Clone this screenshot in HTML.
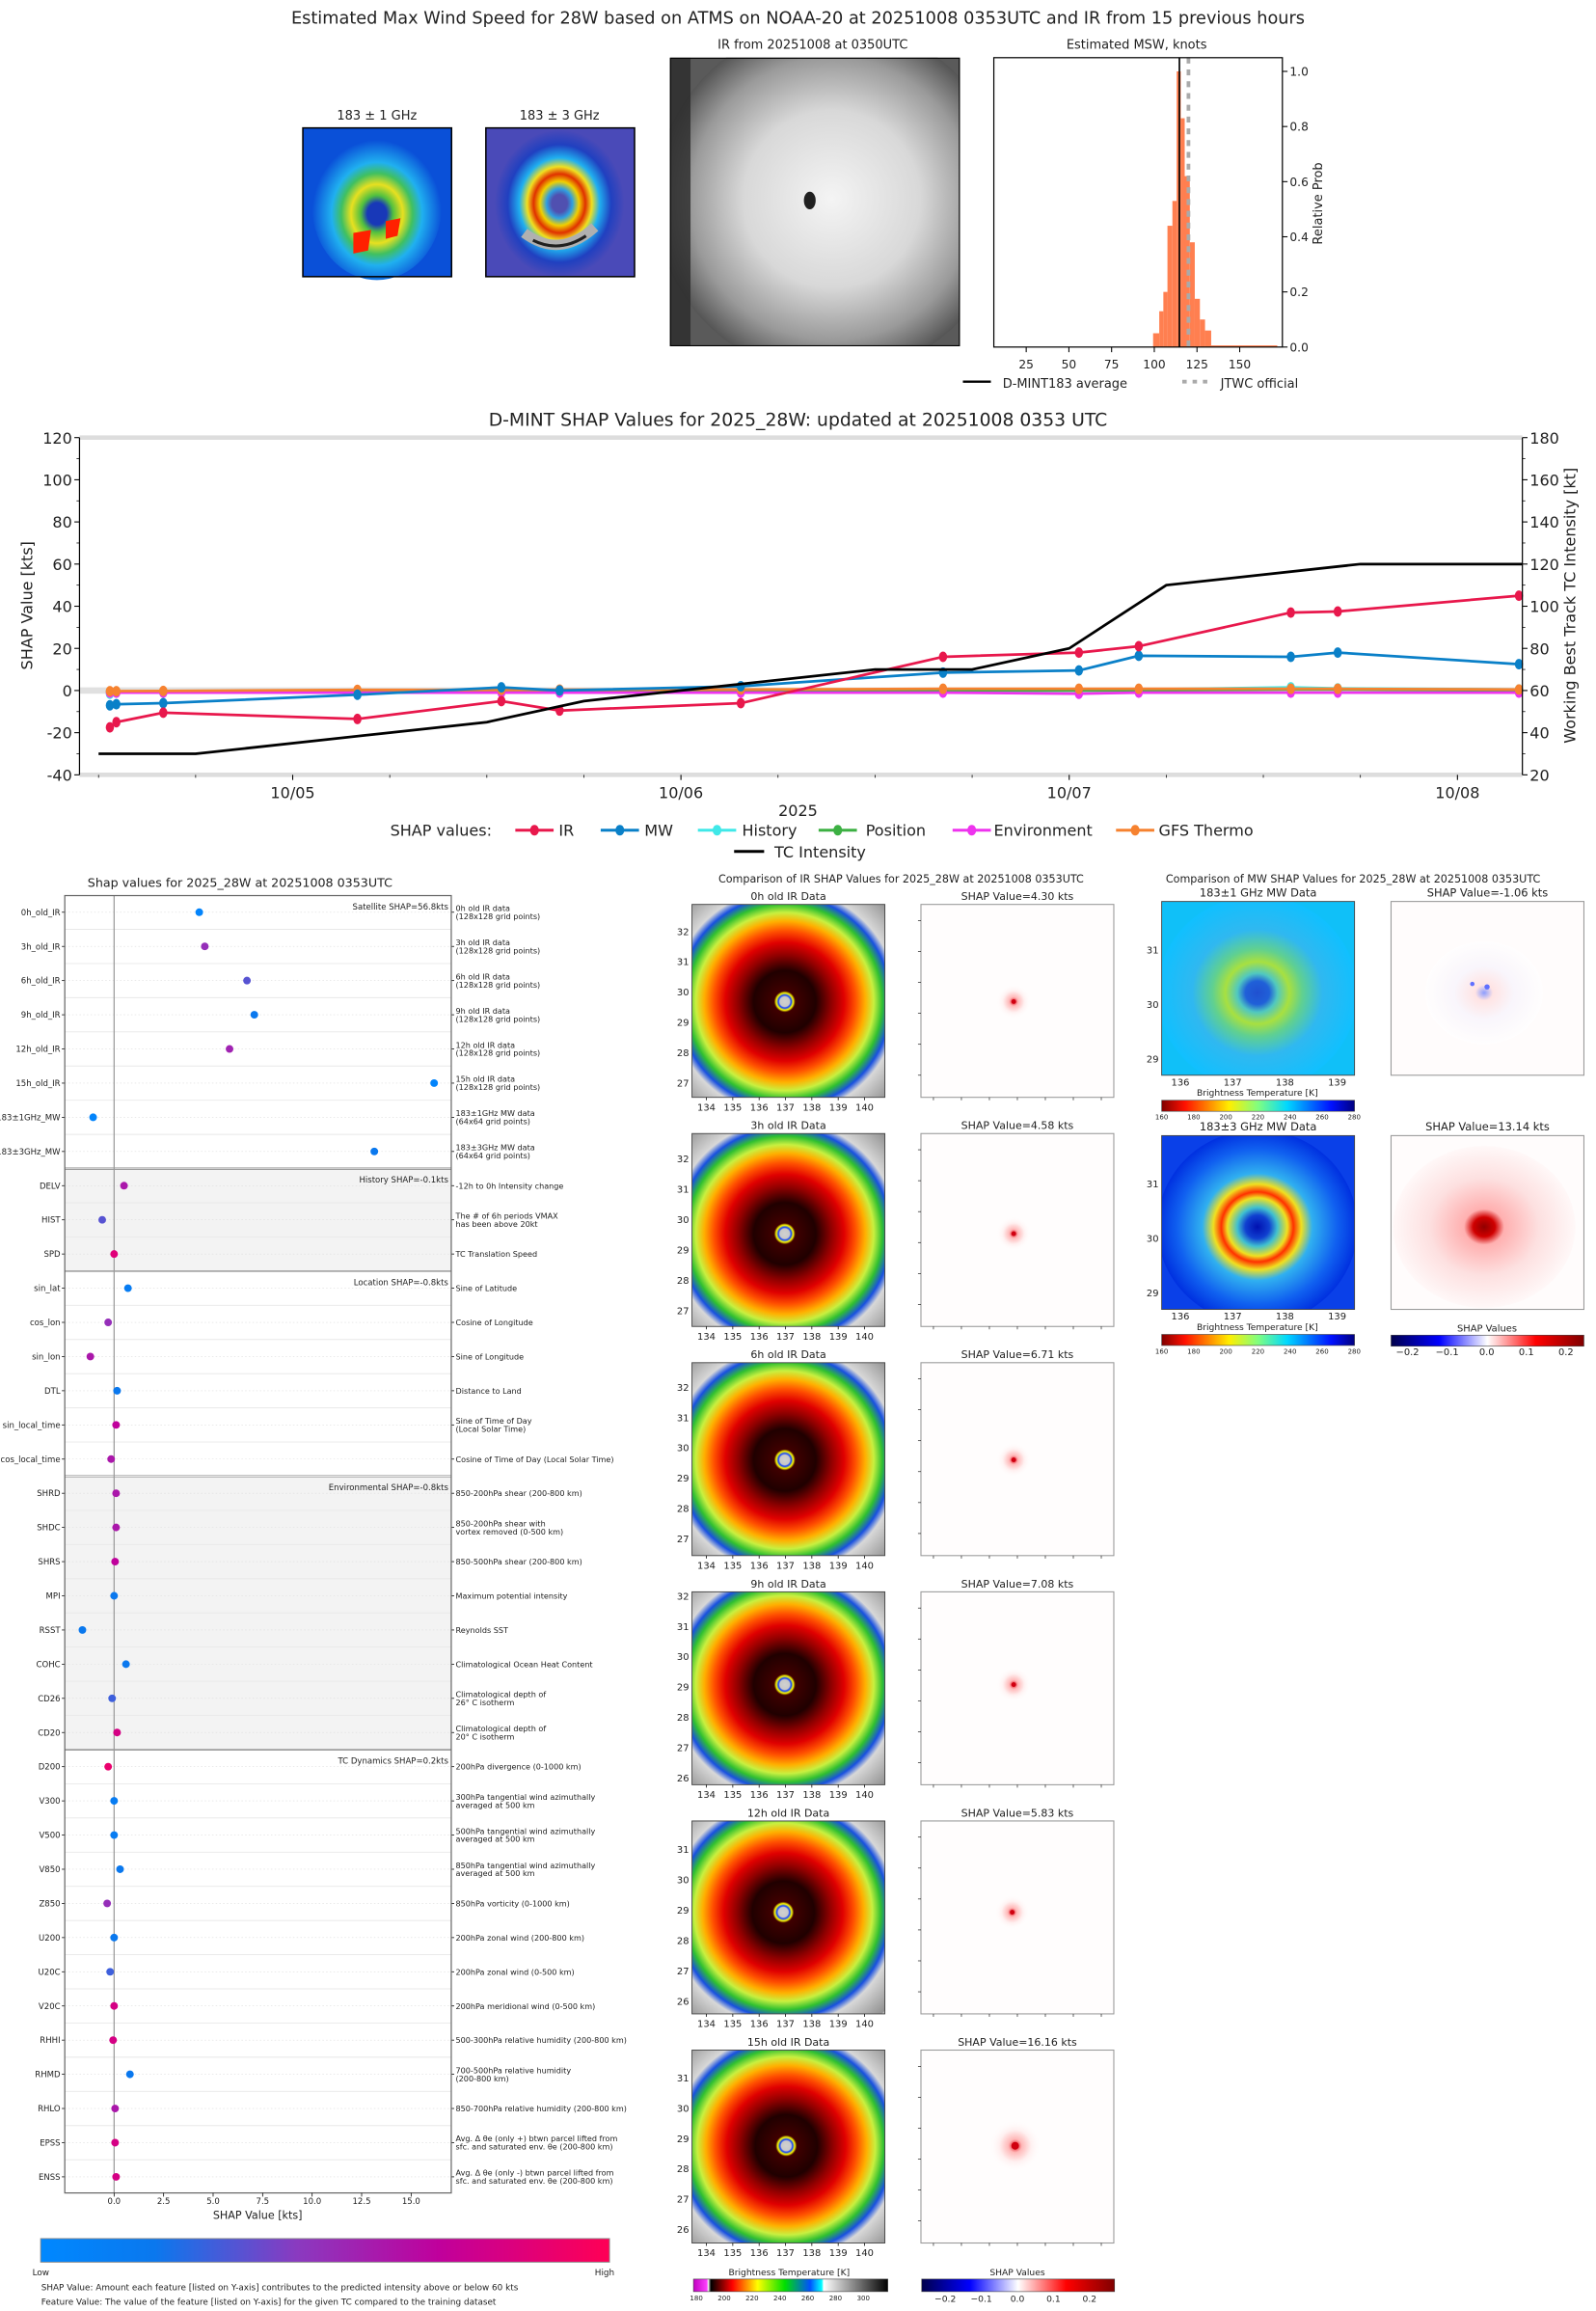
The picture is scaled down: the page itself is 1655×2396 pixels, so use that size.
<!DOCTYPE html>
<html><head><meta charset="utf-8"><title>D-MINT 28W</title>
<style>html,body{margin:0;padding:0;background:#fff}svg{display:block;font-family:"DejaVu Sans","Liberation Sans",sans-serif}</style>
</head><body>
<svg id="root" xmlns="http://www.w3.org/2000/svg" width="1655" height="2396" viewBox="0 0 1084 1569">
<defs>
<radialGradient id="irg" cx="0.5" cy="0.5" r="0.5">
<stop offset="0" stop-color="#d0d0d0"/><stop offset="0.035" stop-color="#c8c8c8"/><stop offset="0.045" stop-color="#1040ff"/><stop offset="0.06" stop-color="#ffff00"/><stop offset="0.075" stop-color="#400000"/><stop offset="0.22" stop-color="#200000"/><stop offset="0.33" stop-color="#900000"/><stop offset="0.42" stop-color="#e00000"/><stop offset="0.5" stop-color="#ff5000"/><stop offset="0.57" stop-color="#ffb000"/><stop offset="0.63" stop-color="#c8f040"/><stop offset="0.69" stop-color="#30c030"/><stop offset="0.75" stop-color="#1850e0"/><stop offset="0.8" stop-color="#d8d8d8"/><stop offset="1" stop-color="#909090"/>
</radialGradient>
<radialGradient id="greyg" cx="0.5" cy="0.5" r="0.5"><stop offset="0" stop-color="#f4f4f4"/><stop offset="0.5" stop-color="#d8d8d8"/><stop offset="0.8" stop-color="#9a9a9a"/><stop offset="1" stop-color="#555"/></radialGradient>
<radialGradient id="mw1g" cx="0.5" cy="0.5" r="0.5"><stop offset="0" stop-color="#2050d0"/><stop offset="0.12" stop-color="#2060d8"/><stop offset="0.2" stop-color="#50c8c0"/><stop offset="0.32" stop-color="#a8e040"/><stop offset="0.45" stop-color="#60d090"/><stop offset="0.65" stop-color="#30b8f0"/><stop offset="1" stop-color="#10c0ff"/></radialGradient>
<radialGradient id="mw2g" cx="0.5" cy="0.5" r="0.5"><stop offset="0" stop-color="#0010b0"/><stop offset="0.12" stop-color="#1040d0"/><stop offset="0.2" stop-color="#40c0d0"/><stop offset="0.3" stop-color="#f0e020"/><stop offset="0.36" stop-color="#ff3000"/><stop offset="0.44" stop-color="#f0e020"/><stop offset="0.55" stop-color="#30b0f0"/><stop offset="0.8" stop-color="#1060f0"/><stop offset="1" stop-color="#0030e0"/></radialGradient>
<radialGradient id="thumb1" cx="0.5" cy="0.55" r="0.5"><stop offset="0" stop-color="#1838b8"/><stop offset="0.15" stop-color="#1838b8"/><stop offset="0.25" stop-color="#50c040"/><stop offset="0.4" stop-color="#e8e020"/><stop offset="0.55" stop-color="#40c060"/><stop offset="0.7" stop-color="#20b0f0"/><stop offset="1" stop-color="#0a50d8"/></radialGradient>
<radialGradient id="thumb3" cx="0.5" cy="0.5" r="0.5"><stop offset="0" stop-color="#5050b0"/><stop offset="0.12" stop-color="#5050b0"/><stop offset="0.2" stop-color="#30a0e0"/><stop offset="0.3" stop-color="#f0d000"/><stop offset="0.4" stop-color="#e03000"/><stop offset="0.5" stop-color="#f0e020"/><stop offset="0.62" stop-color="#20b0f0"/><stop offset="0.8" stop-color="#2040c0"/><stop offset="1" stop-color="#4a4ab8"/></radialGradient>
<radialGradient id="smw1" cx="0.5" cy="0.5" r="0.5"><stop offset="0" stop-color="#3050ff"/><stop offset="0.15" stop-color="#ffd0d0"/><stop offset="0.5" stop-color="#f4f0fb"/><stop offset="1" stop-color="#ffffff"/></radialGradient>
<radialGradient id="smw2" cx="0.5" cy="0.5" r="0.5"><stop offset="0" stop-color="#900000"/><stop offset="0.12" stop-color="#d00000"/><stop offset="0.22" stop-color="#ffb0b0"/><stop offset="0.6" stop-color="#fde0e0"/><stop offset="1" stop-color="#fff8f8"/></radialGradient>
<radialGradient id="sir" cx="0.5" cy="0.5" r="0.5"><stop offset="0" stop-color="#e00010"/><stop offset="0.25" stop-color="#ffb8b8"/><stop offset="0.6" stop-color="#fff0f0"/><stop offset="1" stop-color="#ffffff" stop-opacity="0"/></radialGradient>
<linearGradient id="featg" x1="0" x2="1"><stop offset="0" stop-color="#0088ff"/><stop offset="0.2" stop-color="#0a78ee"/><stop offset="0.45" stop-color="#8a3ac0"/><stop offset="0.7" stop-color="#c0009c"/><stop offset="1" stop-color="#ff0055"/></linearGradient>
<linearGradient id="jetr" x1="0" x2="1"><stop offset="0" stop-color="#800000"/><stop offset="0.12" stop-color="#ff1000"/><stop offset="0.35" stop-color="#ffee00"/><stop offset="0.5" stop-color="#80ff80"/><stop offset="0.65" stop-color="#00d8ff"/><stop offset="0.88" stop-color="#0010ff"/><stop offset="1" stop-color="#000080"/></linearGradient>
<linearGradient id="seis" x1="0" x2="1"><stop offset="0" stop-color="#00004c"/><stop offset="0.25" stop-color="#0000ff"/><stop offset="0.5" stop-color="#ffffff"/><stop offset="0.75" stop-color="#ff0000"/><stop offset="1" stop-color="#800000"/></linearGradient>
<linearGradient id="irbar" x1="0" x2="1"><stop offset="0" stop-color="#c000c0"/><stop offset="0.07" stop-color="#ff40ff"/><stop offset="0.075" stop-color="#ffffff"/><stop offset="0.09" stop-color="#000000"/><stop offset="0.2" stop-color="#ff0000"/><stop offset="0.33" stop-color="#ffff00"/><stop offset="0.47" stop-color="#00e000"/><stop offset="0.6" stop-color="#0050ff"/><stop offset="0.66" stop-color="#00ffff"/><stop offset="0.67" stop-color="#ffffff"/><stop offset="1" stop-color="#000000"/></linearGradient>
<clipPath id="greyclip"><rect x="455" y="39" width="197" height="196"/></clipPath>
</defs>
</svg>
<script>
// ===== data =====
var histBinStart = [99.3,102.9,105.3,107.7,110.6,113.1,115.5,117.8,120.8,123.7,126.7,129.7,133.3];
var histBinEnd   = [102.9,105.3,107.7,110.6,113.1,115.5,117.8,120.8,123.7,126.7,129.7,133.3,172];
var histProb     = [0.05,0.13,0.2,0.44,0.53,1.0,0.83,0.62,0.38,0.175,0.1,0.06,0.006];
var histMean = 114.7, histJtwc = 120;
var histXTicks = [25,50,75,100,125,150];
var histYTicks = [0,0.2,0.4,0.6,0.8,1.0];

var shapHours = [-11.3,-10.9,-8,4,12.9,16.5,27.7,40.2,48.6,52.3,61.7,64.6,75.8];
var irVals   = [-17.5,-15,-10.5,-13.5,-5,-9.5,-6,16,18,21,37,37.5,45];
var mwVals   = [-7,-6.5,-6,-2,1.5,0,2,8.5,9.5,16.5,16,18,12.5];
var histVals = [-1.5,-1,-1,-0.5,-0.5,-0.5,0,0,0,0.5,1.5,1,0.5];
var posVals  = [-0.5,-0.5,-0.5,0,0,0,0,0,0,0,0.5,0.5,0];
var envVals  = [-1,-1,-1,-1,-1,-1,-1,-1,-1.5,-1,-1,-1,-1];
var gfsVals  = [-0.3,-0.3,-0.2,0.3,0.3,0.4,0.5,0.8,0.8,0.8,0.8,0.8,0.5];
var tcHours = [-12,-6,12,18,36,42,48,54,66,76];
var tcVals  = [30,30,45,55,70,70,80,110,120,120];
var leftTicks = [-40,-20,0,20,40,60,80,100,120];
var rightTicks = [20,40,60,80,100,120,140,160,180];
var dateTicks = ['10/05','10/06','10/07','10/08'];

var featNames = ['0h_old_IR','3h_old_IR','6h_old_IR','9h_old_IR','12h_old_IR','15h_old_IR','183\u00b11GHz_MW','183\u00b13GHz_MW','DELV','HIST','SPD','sin_lat','cos_lon','sin_lon','DTL','sin_local_time','cos_local_time','SHRD','SHDC','SHRS','MPI','RSST','COHC','CD26','CD20','D200','V300','V500','V850','Z850','U200','U20C','V20C','RHHI','RHMD','RHLO','EPSS','ENSS'];
var featShap = [4.30,4.58,6.71,7.08,5.83,16.16,-1.06,13.14,0.5,-0.6,0,0.7,-0.3,-1.2,0.15,0.1,-0.15,0.1,0.1,0.05,0,-1.6,0.6,-0.1,0.15,-0.3,0,0,0.3,-0.35,0,-0.2,0,-0.05,0.8,0.05,0.05,0.1];
var featLevel = [0.05,0.5,0.35,0.2,0.55,0.05,0.05,0.2,0.6,0.35,0.85,0.15,0.5,0.6,0.2,0.7,0.6,0.6,0.6,0.7,0.2,0.2,0.2,0.3,0.8,0.9,0.15,0.15,0.2,0.5,0.2,0.3,0.8,0.8,0.2,0.6,0.8,0.8];
var featDesc = [['0h old IR data','(128x128 grid points)'],['3h old IR data','(128x128 grid points)'],['6h old IR data','(128x128 grid points)'],['9h old IR data','(128x128 grid points)'],['12h old IR data','(128x128 grid points)'],['15h old IR data','(128x128 grid points)'],['183\u00b11GHz MW data','(64x64 grid points)'],['183\u00b13GHz MW data','(64x64 grid points)'],['-12h to 0h Intensity change'],['The # of 6h periods VMAX','has been above 20kt'],['TC Translation Speed'],['Sine of Latitude'],['Cosine of Longitude'],['Sine of Longitude'],['Distance to Land'],['Sine of Time of Day','(Local Solar Time)'],['Cosine of Time of Day (Local Solar Time)'],['850-200hPa shear (200-800 km)'],['850-200hPa shear with','vortex removed (0-500 km)'],['850-500hPa shear (200-800 km)'],['Maximum potential intensity'],['Reynolds SST'],['Climatological Ocean Heat Content'],['Climatological depth of','26\u00b0 C isotherm'],['Climatological depth of','20\u00b0 C isotherm'],['200hPa divergence (0-1000 km)'],['300hPa tangential wind azimuthally','averaged at 500 km'],['500hPa tangential wind azimuthally','averaged at 500 km'],['850hPa tangential wind azimuthally','averaged at 500 km'],['850hPa vorticity (0-1000 km)'],['200hPa zonal wind (200-800 km)'],['200hPa zonal wind (0-500 km)'],['200hPa meridional wind (0-500 km)'],['500-300hPa relative humidity (200-800 km)'],['700-500hPa relative humidity','(200-800 km)'],['850-700hPa relative humidity (200-800 km)'],['Avg. \u0394 \u03b8e (only +) btwn parcel lifted from','sfc. and saturated env. \u03b8e (200-800 km)'],['Avg. \u0394 \u03b8e (only -) btwn parcel lifted from','sfc. and saturated env. \u03b8e (200-800 km)']];
var sectStart = [0,8,11,17,25];
var sectTitle = ['Satellite SHAP=56.8kts','History SHAP=-0.1kts','Location SHAP=-0.8kts','Environmental SHAP=-0.8kts','TC Dynamics SHAP=0.2kts'];
var shapXTicks = [0,2.5,5,7.5,10,12.5,15];

var irTitles = ['0h old IR Data','3h old IR Data','6h old IR Data','9h old IR Data','12h old IR Data','15h old IR Data'];
var irShapVals = ['4.30','4.58','6.71','7.08','5.83','16.16'];
var irTopLat = [32,32,32,32,31,31];
var irNLat = [6,6,6,7,6,6];

// ===== helpers =====
var NS='http://www.w3.org/2000/svg';
var root=document.getElementById('root');
function mk(tag,attrs,parent){var e=document.createElementNS(NS,tag);for(var k in attrs)e.setAttribute(k,attrs[k]);(parent||root).appendChild(e);return e;}
function txt(x,y,s,size,anchor,parent,extra){var e=mk('text',{x:x,y:y,'font-size':size,'text-anchor':anchor||'start',fill:'#222'},parent);if(extra)for(var k in extra)e.setAttribute(k,extra[k]);e.textContent=s;return e;}

// ===== top figure =====
var t=txt(542,16,'Estimated Max Wind Speed for 28W based on ATMS on NOAA-20 at 20251008 0353UTC and IR from 15 previous hours',11.6,'middle');



t=txt(256,81,'183 \u00b1 1 GHz',8.5,'middle');


t=txt(380,81,'183 \u00b1 3 GHz',8.5,'middle');


var g=mk('g',{});


mk('rect',{x:205.7,y:86.7,width:101,height:101,fill:'#0a50d8'},g);
mk('ellipse',{cx:256,cy:140,rx:44,ry:50,fill:'url(#thumb1)'},g);
mk('path',{d:'M240 158 L252 156 L250 170 L240 172 Z M262 150 L272 148 L270 160 L262 162 Z',fill:'#ff2000'},g);
mk('rect',{x:205.7,y:86.7,width:101,height:101,fill:'none',stroke:'#000','stroke-width':1},g);
g=mk('g',{});


mk('rect',{x:330,y:86.7,width:101,height:101,fill:'#4a4ab8'},g);
mk('ellipse',{cx:380,cy:138,rx:44,ry:50,fill:'url(#thumb3)'},g);
mk('path',{d:'M356 158 Q380 176 404 154',fill:'none',stroke:'#b0b0b0','stroke-width':7},g);
mk('path',{d:'M362 163 Q380 172 398 160',fill:'none',stroke:'#202020','stroke-width':2},g);
mk('rect',{x:330,y:86.7,width:101,height:101,fill:'none',stroke:'#000','stroke-width':1},g);

t=txt(552,33,'IR from 20251008 at 0350UTC',8.5,'middle');


g=mk('g',{'clip-path':'url(#greyclip)'});


mk('rect',{x:455,y:39,width:197,height:196,fill:'#5a5a5a'},g);
mk('circle',{cx:565,cy:135,r:120,fill:'url(#greyg)'},g);
mk('rect',{x:455,y:39,width:14,height:196,fill:'#2a2a2a',opacity:0.8},g);
mk('ellipse',{cx:550,cy:136,rx:4,ry:6,fill:'#202020'},g);
mk('rect',{x:455,y:39,width:197,height:196,fill:'none',stroke:'#000','stroke-width':1.5},g);

t=txt(772,33,'Estimated MSW, knots',8.5,'middle');


var hx=function(v){return 697+(v-25)*1.16;};
var hy=function(p){return 235.5-p*187.2;};
g=mk('g',{});


for(var i=0;i<histProb.length;i++){
  var b=mk('rect',{x:hx(histBinStart[i]),y:hy(histProb[i]),width:hx(histBinEnd[i])-hx(histBinStart[i]),height:hy(0)-hy(histProb[i]),fill:'#ff7f50'},g);
  
  
}
var ml=mk('line',{x1:hx(histMean),x2:hx(histMean),y1:39,y2:235.5,stroke:'#000','stroke-width':1.1},g);


var jl=mk('line',{x1:hx(histJtwc),x2:hx(histJtwc),y1:39,y2:235.5,stroke:'#aaa','stroke-width':2.5,'stroke-dasharray':'4 4'},g);


mk('rect',{x:675,y:39,width:196,height:196.5,fill:'none',stroke:'#000','stroke-width':0.8},g);
histXTicks.forEach(function(v){mk('line',{x1:hx(v),x2:hx(v),y1:235.5,y2:239,stroke:'#000','stroke-width':0.7},g);txt(hx(v),250,String(v),8,'middle',g);});
histYTicks.forEach(function(v){mk('line',{x1:871,x2:874.5,y1:hy(v),y2:hy(v),stroke:'#000','stroke-width':0.7},g);txt(876,hy(v)+3,v.toFixed(1),8,'start',g);});
t=txt(0,0,'Relative Prob',8.5,'middle',g,{transform:'translate(898,138) rotate(-90)'});


g=mk('g',{});


mk('line',{x1:654,x2:673,y1:259,y2:259,stroke:'#000','stroke-width':1.5},g);
txt(681,263,'D-MINT183 average',8.5,'start',g);
mk('line',{x1:803,x2:821,y1:259,y2:259,stroke:'#aaa','stroke-width':2.5,'stroke-dasharray':'3 4'},g);
txt(829,263,'JTWC official',8.5,'start',g);

// ===== SHAP time series =====
var L=54,R=1034,T=297,B=526;
var tx=function(h){return 198.8+h/24*263.7;};
var ly=function(v){return T+(120-v)*(B-T)/160;};
var ry=function(v){return T+(180-v)*(B-T)/160;};
t=txt(542,289,'D-MINT SHAP Values for 2025_28W: updated at 20251008 0353 UTC',12.3,'middle');


var ts=mk('g',{});


mk('rect',{x:L,y:ly(1.5),width:R-L,height:ly(-1.5)-ly(1.5),fill:'#e0e0e0'},ts);
mk('line',{x1:L,x2:R,y1:T,y2:T,stroke:'#ddd','stroke-width':3},ts);
mk('line',{x1:L,x2:R,y1:B,y2:B,stroke:'#ddd','stroke-width':3},ts);
function series(vals,color,name){
  var pts=shapHours.map(function(h,i){return tx(h)+','+ly(vals[i]);}).join(' ');
  var gg=mk('g',{},ts);
  
  
  mk('polyline',{points:pts,fill:'none',stroke:color,'stroke-width':1.8},gg);
  shapHours.forEach(function(h,i){
    var c=mk('ellipse',{cx:tx(h),cy:ly(vals[i]),rx:2.8,ry:3.6,fill:color},gg);
    
    
  });
}
series(histVals,'#40e8e8','history-series');
series(posVals,'#3cb043','position-series');
series(envVals,'#ee33ee','environment-series');
series(gfsVals,'#f68230','gfs-thermo-series');
series(mwVals,'#0a80c8','mw-series');
series(irVals,'#e8184c','ir-series');
var tcp=mk('polyline',{points:tcHours.map(function(h,i){return tx(h)+','+ry(tcVals[i]);}).join(' '),fill:'none',stroke:'#000','stroke-width':1.8},ts);


mk('line',{x1:L,x2:L,y1:T,y2:B,stroke:'#000','stroke-width':0.8},ts);
mk('line',{x1:R,x2:R,y1:T,y2:B,stroke:'#000','stroke-width':0.8},ts);
leftTicks.forEach(function(v){mk('line',{x1:L-3.5,x2:L,y1:ly(v),y2:ly(v),stroke:'#000','stroke-width':0.7},ts);txt(L-5,ly(v)+4,String(v),10.5,'end',ts);});
for(var v=-30;v<=110;v+=20)mk('line',{x1:L-2,x2:L,y1:ly(v),y2:ly(v),stroke:'#000','stroke-width':0.5},ts);
rightTicks.forEach(function(v){mk('line',{x1:R,x2:R+3.5,y1:ry(v),y2:ry(v),stroke:'#000','stroke-width':0.7},ts);txt(R+5,ry(v)+4,String(v),10.5,'start',ts);});
for(var v=30;v<=170;v+=20)mk('line',{x1:R,x2:R+2,y1:ry(v),y2:ry(v),stroke:'#000','stroke-width':0.5},ts);
dateTicks.forEach(function(s,i){var x=tx(i*24);mk('line',{x1:x,x2:x,y1:B,y2:B+3.5,stroke:'#000','stroke-width':0.7},ts);txt(x,B+16,s,10.5,'middle',ts);});
for(var h=-12;h<=72;h+=6){if(h%24)mk('line',{x1:tx(h),x2:tx(h),y1:B,y2:B+2,stroke:'#000','stroke-width':0.5},ts);}
txt(542,554,'2025',10.5,'middle',ts);
t=txt(0,0,'SHAP Value [kts]',10.5,'middle',ts,{transform:'translate(22,411) rotate(-90)'});


t=txt(0,0,'Working Best Track TC Intensity [kt]',10.5,'middle',ts,{transform:'translate(1070,411) rotate(-90)'});


var lg=mk('g',{});


txt(265,567.5,'SHAP values:',10.5,'start',lg);
[['IR','#e8184c',350,379.5],['MW','#0a80c8',408,437.7],['History','#40e8e8',474,504],['Position','#3cb043',556,588],['Environment','#ee33ee',647,675],['GFS Thermo','#f68230',758,787]].forEach(function(it){
  var e=mk('g',{},lg);
  
  
  mk('line',{x1:it[2],x2:it[2]+26,y1:563.6,y2:563.6,stroke:it[1],'stroke-width':2},e);
  mk('ellipse',{cx:it[2]+13,cy:563.6,rx:3,ry:3.6,fill:it[1]},e);
  txt(it[3],567.5,it[0],10.5,'start',e);
});
mk('line',{x1:498.6,x2:519,y1:578,y2:578,stroke:'#000','stroke-width':2},lg);
txt(526,582,'TC Intensity',10.5,'start',lg);

// ===== bottom-left feature SHAP =====
var BL=44,BR=306.5,BT=608,BB=1489;
var fx=function(v){return 77.5+v*13.45;};
var fy=function(i){return 619.3+i*23.21;};
t=txt(163,602,'Shap values for 2025_28W at 20251008 0353UTC',8.3,'middle');


var fs=mk('g',{});


sectStart.forEach(function(s,k){
  var e=k+1<sectStart.length?sectStart[k+1]:featNames.length;
  var y0=k==0?BT:fy(s)-11.6, y1=k==sectStart.length-1?BB:fy(e)-11.6;
  if(k%2==1)mk('rect',{x:BL,y:y0,width:BR-BL,height:y1-y0,fill:'#f3f3f3'},fs);
  if(k>0)mk('line',{x1:BL,x2:BR,y1:y0,y2:y0,stroke:'#111','stroke-width':1},fs);
  txt(BR-2,y0+9.5,sectTitle[k],5.6,'end',fs);
});
featNames.forEach(function(n,i){
  var y=fy(i);
  if(i>0)mk('line',{x1:BL,x2:BR,y1:y-11.6,y2:y-11.6,stroke:'#e8e8e8','stroke-width':0.6},fs);
  mk('line',{x1:BL,x2:BR,y1:y,y2:y,stroke:'#ddd','stroke-width':0.4,'stroke-dasharray':'1 1.5'},fs);
  mk('line',{x1:BL-2,x2:BL,y1:y,y2:y,stroke:'#000','stroke-width':0.5},fs);
  mk('line',{x1:BR,x2:BR+2,y1:y,y2:y,stroke:'#000','stroke-width':0.5},fs);
  txt(BL-3,y+2,n,5.6,'end',fs);
  var d=featDesc[i];
  if(d.length==1)txt(309.5,y+2,d[0],5.3,'start',fs);
  else{txt(309.5,y-0.8,d[0],5.3,'start',fs);txt(309.5,y+4.7,d[1],5.3,'start',fs);}
});
mk('line',{x1:fx(0),x2:fx(0),y1:BT,y2:BB,stroke:'#999','stroke-width':0.8},fs);
function featColor(l){var a=[[0,136,255],[10,120,238],[138,58,192],[192,0,156],[255,0,85]],p=[0,0.2,0.45,0.7,1];for(var j=1;j<p.length;j++)if(l<=p[j]){var f=(l-p[j-1])/(p[j]-p[j-1]);return 'rgb('+a[j-1].map(function(c,m){return Math.round(c+(a[j][m]-c)*f);}).join(',')+')';}return 'rgb(255,0,85)';}
featShap.forEach(function(v,i){
  var c=mk('circle',{cx:fx(v),cy:fy(i),r:2.6,fill:featColor(featLevel[i])},fs);
  
  
});
mk('rect',{x:BL,y:BT,width:BR-BL,height:BB-BT,fill:'none',stroke:'#666','stroke-width':0.8},fs);
shapXTicks.forEach(function(v){mk('line',{x1:fx(v),x2:fx(v),y1:BB,y2:BB+2.5,stroke:'#000','stroke-width':0.5},fs);txt(fx(v),BB+7.6,v.toFixed(1),5.6,'middle',fs);});
t=txt(175,1506.5,'SHAP Value [kts]',7.3,'middle',fs);


var cb=mk('g',{});


mk('rect',{x:27.6,y:1520,width:386.4,height:16,fill:'url(#featg)',stroke:'#888','stroke-width':0.6},cb);
txt(22,1545,'Low',5.8,'start',cb);
txt(404,1545,'High',5.8,'start',cb);
txt(28,1555,'SHAP Value: Amount each feature [listed on Y-axis] contributes to the predicted intensity above or below 60 kts',5.8,'start',cb);
txt(28,1565,'Feature Value: The value of the feature [listed on Y-axis] for the given TC compared to the training dataset',5.8,'start',cb);

// ===== IR comparison panels =====
t=txt(612,599,'Comparison of IR SHAP Values for 2025_28W at 20251008 0353UTC',7.3,'middle');


var eyes=[[63,66],[63,68],[63,66],[63,63],[62,62],[64,65]];
irTitles.forEach(function(ttl,r){
  var top=614+r*155.6, x0=470, x1=625.5, w=131, h=131;
  var pg=mk('g',{});
  
  
  var cid='clip'+r; var cp=mk('clipPath',{id:cid},pg); mk('rect',{x:x0,y:top,width:w,height:h},cp);
  var inner=mk('g',{'clip-path':'url(#'+cid+')'},pg);
  mk('rect',{x:x0,y:top,width:w,height:h,fill:'#b8b8b8'},inner);
  mk('circle',{cx:x0+eyes[r][0],cy:top+eyes[r][1],r:96,fill:'url(#irg)'},inner);
  mk('rect',{x:x0,y:top,width:w,height:h,fill:'none',stroke:'#444','stroke-width':0.6},pg);
  txt(x0+w/2,top-3,ttl,7.2,'middle',pg);
  for(var k=0;k<7;k++){var xx=479.8+k*17.9;mk('line',{x1:xx,x2:xx,y1:top+h,y2:top+h+2,stroke:'#000','stroke-width':0.5},pg);txt(xx,top+h+9,String(134+k),6.5,'middle',pg);}
  var ly0=[632.5,787,942,1083.8,1256,1411][r];
  for(var k=0;k<irNLat[r];k++){var yy=ly0+k*20.6;txt(x0-2,yy+2.2,String(irTopLat[r]-k),6.5,'end',pg);}
  var sg=mk('g',{});
  
  
  mk('rect',{x:x1,y:top,width:w,height:h,fill:'#fffdfd',stroke:'#999','stroke-width':0.7},sg);
  mk('circle',{cx:x1+eyes[r][0],cy:top+eyes[r][1],r:r==5?18:12,fill:'url(#sir)'},sg);
  mk('circle',{cx:x1+eyes[r][0],cy:top+eyes[r][1],r:r==5?2.6:1.6,fill:'#d00010'},sg);
  for(var k=0;k<7;k++){var xx=x1+8.5+k*19;mk('line',{x1:xx,x2:xx,y1:top+h,y2:top+h+2,stroke:'#000','stroke-width':0.4},sg);}
  for(var k=0;k<6;k++){var yy=top+11+k*21;mk('line',{x1:x1-2,x2:x1,y1:yy,y2:yy,stroke:'#000','stroke-width':0.4},sg);}
  txt(x1+w/2,top-3,'SHAP Value='+irShapVals[r]+' kts',7.2,'middle',sg);
});
var ib=mk('g',{});


txt(536,1545,'Brightness Temperature [K]',6,'middle',ib);
mk('rect',{x:471,y:1547.5,width:132,height:8.5,fill:'url(#irbar)',stroke:'#444','stroke-width':0.4},ib);
[180,200,220,240,260,280,300].forEach(function(v,k){txt(471+2+k*18.9,1562,String(v),4.6,'middle',ib);});
var sb=mk('g',{});


txt(691,1545,'SHAP Values',6,'middle',sb);
mk('rect',{x:626,y:1547.5,width:131,height:8.5,fill:'url(#seis)',stroke:'#444','stroke-width':0.4},sb);
['\u22120.2','\u22120.1','0.0','0.1','0.2'].forEach(function(s,k){txt(642+k*24.5,1563,s,6,'middle',sb);});

// ===== MW comparison panels =====
t=txt(919,599,'Comparison of MW SHAP Values for 2025_28W at 20251008 0353UTC',7.3,'middle');


[['183\u00b11 GHz MW Data','-1.06','mw1g','smw1',612],['183\u00b13 GHz MW Data','13.14','mw2g','smw2',771]].forEach(function(p,r){
  var top=p[4],x0=789,x1=944.8,w=131,h=118;
  var mg=mk('g',{});
  
  
  var cid='mclip'+r; var cp=mk('clipPath',{id:cid},mg); mk('rect',{x:x0,y:top,width:w,height:h},cp);
  var inner=mk('g',{'clip-path':'url(#'+cid+')'},mg);
  mk('rect',{x:x0,y:top,width:w,height:h,fill:r?'#0a40e8':'#10c0f8'},inner);
  mk('ellipse',{cx:854,cy:top+62,rx:68,ry:66,fill:'url(#'+p[2]+')'},inner);
  mk('rect',{x:x0,y:top,width:w,height:h,fill:'none',stroke:'#444','stroke-width':0.6},mg);
  txt(x0+w/2,top-3.5,p[0],7.5,'middle',mg);
  [136,137,138,139].forEach(function(v,k){txt(801.7+k*35.5,top+h+7,String(v),6.5,'middle',mg);});
  [31,30,29].forEach(function(v,k){txt(x0-2,top+33+k*37+2.2,String(v),6.5,'end',mg);});
  txt(854,top+h+14,'Brightness Temperature [K]',6,'middle',mg);
  mk('rect',{x:x0,y:top+h+17,width:w,height:7.5,fill:'url(#jetr)',stroke:'#444','stroke-width':0.4},mg);
  [160,180,200,220,240,260,280].forEach(function(v,k){txt(x0+k*21.8,top+h+30,String(v),4.6,'middle',mg);});
  var sg=mk('g',{});
  
  
  mk('rect',{x:x1,y:top,width:w,height:h,fill:'#fffcfc',stroke:'#999','stroke-width':0.7},sg);
  mk('ellipse',{cx:1008,cy:top+62,rx:r?62:40,ry:r?55:35,fill:'url(#'+p[3]+')',opacity:r?1:0.55},sg);
  if(r==0){mk('circle',{cx:1000,cy:top+56,r:1.5,fill:'#6070ff'},sg);mk('circle',{cx:1010,cy:top+58,r:1.8,fill:'#6070ff'},sg);}
  txt(x1+w/2,top-3.5,'SHAP Value='+p[1]+' kts',7.5,'middle',sg);
});
var mb=mk('g',{});


txt(1010,904,'SHAP Values',6.5,'middle',mb);
mk('rect',{x:944.8,y:906.5,width:131,height:7.5,fill:'url(#seis)',stroke:'#444','stroke-width':0.4},mb);
['\u22120.2','\u22120.1','0.0','0.1','0.2'].forEach(function(s,k){txt(956+k*26.9,920,s,6.5,'middle',mb);});
</script>
</body></html>
